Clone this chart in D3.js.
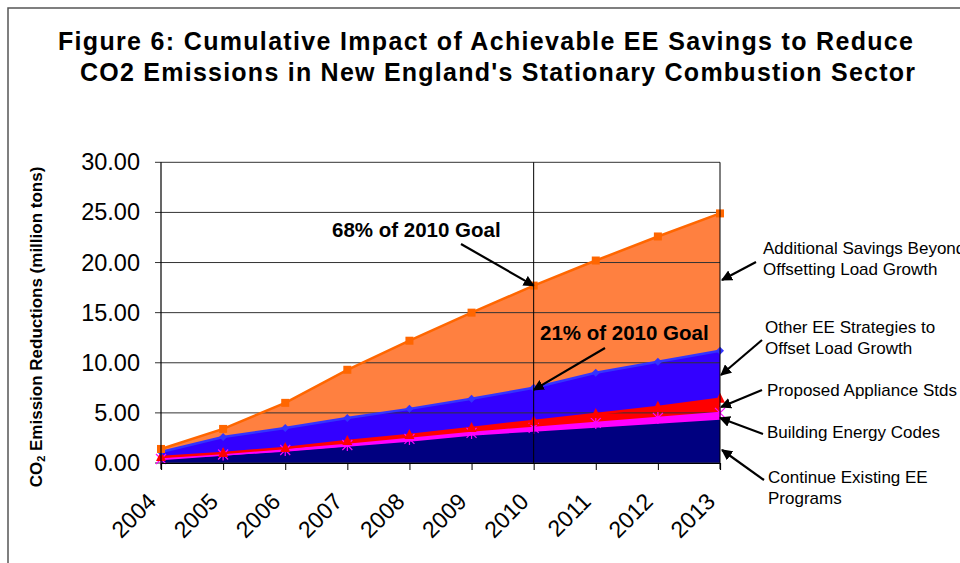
<!DOCTYPE html>
<html>
<head>
<meta charset="utf-8">
<script src="https://cdn.jsdelivr.net/npm/d3@7"></script>
<style>
  body { margin: 0; background: #fff; }
  text { font-family: Arial, "Liberation Sans", sans-serif; }
</style>
</head>
<body>
<script>
// years along the x axis
var years = [2004, 2005, 2006, 2007, 2008, 2009, 2010, 2011, 2012, 2013];

// savings per program (million tons), stacked bottom to top
var existingPrograms = [0.3, 0.6, 1.0, 1.5, 2.0, 2.6, 3.0, 3.4, 3.8, 4.2];
var buildingCodes    = [0.1, 0.25, 0.3, 0.3, 0.4, 0.4, 0.5, 0.6, 0.7, 0.8];
var applianceStds    = [0.2, 0.15, 0.2, 0.4, 0.4, 0.5, 0.7, 0.9, 1.1, 1.4];
var otherStrategies  = [0.5, 1.6, 2.0, 2.3, 2.6, 2.9, 3.3, 4.1, 4.5, 4.8];
var additionalSavings = [0.3, 0.8, 2.5, 4.8, 6.8, 8.6, 10.2, 11.2, 12.5, 13.7];

var yTicks = [0, 5, 10, 15, 20, 25, 30];

var titleLines = [
  "Figure 6: Cumulative Impact of Achievable EE Savings to Reduce",
  "CO2 Emissions in New England's Stationary Combustion Sector"
];

var w = 960, h = 563;

var svg = d3.select("body").append("svg")
  .attr("width", w)
  .attr("height", h);

// outer chart border (cropped on right and bottom)
svg.append("rect")
  .attr("x", 8).attr("y", 8)
  .attr("width", 1000).attr("height", 1000)
  .attr("fill", "none")
  .attr("stroke", "#555")
  .attr("stroke-width", 1.5);

// title (the original font runs wider, so stretch spacing to match)
svg.append("text")
  .attr("x", 58).attr("y", 50)
  .attr("font-size", 25).attr("font-weight", "bold")
  .attr("textLength", 855).attr("lengthAdjust", "spacing")
  .text(titleLines[0]);
svg.append("text")
  .attr("x", 80).attr("y", 81)
  .attr("font-size", 25).attr("font-weight", "bold")
  .attr("textLength", 835).attr("lengthAdjust", "spacing")
  .text(titleLines[1]);

// plot area
var x0 = 161, x1 = 720, yTop = 162.3, yBot = 463;

var xScale = d3.scaleLinear().domain([2004, 2013]).range([x0, x1]);
var yScale = d3.scaleLinear().domain([0, 30]).range([yBot, yTop]);

// build the table for the stack
var keys = ["existing", "codes", "appliance", "other", "additional"];
var table = years.map(function(y, i) {
  return {
    year: y,
    existing: existingPrograms[i],
    codes: buildingCodes[i],
    appliance: applianceStds[i],
    other: otherStrategies[i],
    additional: additionalSavings[i]
  };
});
var stacked = d3.stack().keys(keys)(table);

var fills = {
  existing: "#000080",
  codes: "#FF00FF",
  appliance: "#FF0000",
  other: "#3300FF",
  additional: "#FF8040"
};
var strokes = {
  existing: "#000080",
  codes: "#FF00FF",
  appliance: "#FF0000",
  other: "#3333FF",
  additional: "#FF6600"
};

var area = d3.area()
  .x(d => xScale(d.data.year))
  .y0(d => yScale(d[0]))
  .y1(d => yScale(d[1]));

var line = d3.line()
  .x(d => xScale(d.data.year))
  .y(d => yScale(d[1]));

svg.append("g").selectAll("path")
  .data(stacked)
  .enter().append("path")
  .attr("d", area)
  .attr("fill", d => fills[d.key]);

// horizontal gridlines on top of the areas
svg.append("g").selectAll("line")
  .data(yTicks)
  .enter().append("line")
  .attr("x1", x0 - 6).attr("x2", x1)
  .attr("y1", d => yScale(d)).attr("y2", d => yScale(d))
  .attr("stroke", "#333").attr("stroke-width", 1);

// top lines for each layer
svg.append("g").selectAll("path")
  .data(stacked)
  .enter().append("path")
  .attr("d", line)
  .attr("fill", "none")
  .attr("stroke", d => strokes[d.key])
  .attr("stroke-width", 2.5);

// markers
var markerLayer = svg.append("g");
stacked.forEach(function(layer) {
  var g = markerLayer.append("g");
  var pts = g.selectAll("g").data(layer).enter().append("g")
    .attr("transform", d => "translate(" + xScale(d.data.year) + "," + yScale(d[1]) + ")");
  if (layer.key == "additional") {
    pts.append("rect").attr("x", -4).attr("y", -4).attr("width", 8).attr("height", 8)
      .attr("fill", "#FF6600");
  } else if (layer.key == "other") {
    pts.append("path").attr("d", "M0,-4L4,0L0,4L-4,0Z").attr("fill", "#3333FF");
  } else if (layer.key == "appliance") {
    pts.append("path").attr("d", "M0,-6L5,4L-5,4Z").attr("fill", "#FF0000");
  } else if (layer.key == "codes") {
    pts.append("path")
      .attr("d", "M-5,-5L5,5M-5,5L5,-5M0,-6L0,6")
      .attr("stroke", "#FF00FF").attr("stroke-width", 1.2);
  }
});

// axes
svg.append("line")
  .attr("x1", x0).attr("x2", x0).attr("y1", yTop).attr("y2", yBot + 6)
  .attr("stroke", "#000").attr("stroke-width", 1.2);
svg.append("line")
  .attr("x1", x1).attr("x2", x1).attr("y1", yTop).attr("y2", yBot + 6)
  .attr("stroke", "#000").attr("stroke-width", 1);
svg.append("line")
  .attr("x1", xScale(2010)).attr("x2", xScale(2010)).attr("y1", yTop).attr("y2", yBot)
  .attr("stroke", "#000").attr("stroke-width", 1);

var xAxis = d3.axisBottom(xScale)
  .tickValues(years)
  .tickSize(7)
  .tickFormat(d3.format("d"));
var xg = svg.append("g")
  .attr("transform", "translate(0," + yBot + ")")
  .call(xAxis);
xg.select(".domain").attr("stroke", "#000").attr("stroke-width", 1.2);
xg.selectAll(".tick line").attr("stroke", "#000");
xg.selectAll(".tick text")
  .attr("font-size", 23)
  .attr("font-family", "Arial, 'Liberation Sans', sans-serif")
  .attr("fill", "#000")
  .attr("text-anchor", "end")
  .attr("x", 0).attr("y", 0).attr("dy", null)
  .attr("transform", "translate(-4,40) rotate(-45)");

var yAxis = d3.axisLeft(yScale)
  .tickValues(yTicks)
  .tickSize(0)
  .tickPadding(21)
  .tickFormat(d3.format(".2f"));
var yg = svg.append("g")
  .attr("transform", "translate(" + x0 + ",0)")
  .call(yAxis);
yg.select(".domain").remove();
yg.selectAll(".tick text")
  .attr("font-size", 23.5)
  .attr("font-family", "Arial, 'Liberation Sans', sans-serif")
  .attr("fill", "#000");

// y axis title
var yTitle = svg.append("text")
  .attr("transform", "translate(42,327) rotate(-90)")
  .attr("text-anchor", "middle")
  .attr("font-size", 17)
  .attr("font-weight", "bold");
yTitle.append("tspan").text("CO");
yTitle.append("tspan").attr("font-size", 11).attr("dy", 3).text("2");
yTitle.append("tspan").attr("dy", -3).text(" Emission Reductions (million tons)");

// arrowhead
svg.append("defs").append("marker")
  .attr("id", "head")
  .attr("viewBox", "0 0 10 10")
  .attr("refX", 9).attr("refY", 5)
  .attr("markerWidth", 5).attr("markerHeight", 5)
  .attr("markerUnits", "strokeWidth")
  .attr("orient", "auto")
  .append("path").attr("d", "M0,0L10,5L0,10Z").attr("fill", "#000");

function arrow(xa, ya, xb, yb) {
  svg.append("line")
    .attr("x1", xa).attr("y1", ya).attr("x2", xb).attr("y2", yb)
    .attr("stroke", "#000").attr("stroke-width", 2.2)
    .attr("marker-end", "url(#head)");
}

// goal annotations
var goalIdx = years.indexOf(2010);
svg.append("text").attr("x", 332).attr("y", 237)
  .attr("font-size", 20.5).attr("font-weight", "bold")
  .text("68% of 2010 Goal");
arrow(461, 244, xScale(2010), yScale(stacked[4][goalIdx][1]));
svg.append("text").attr("x", 540).attr("y", 340)
  .attr("font-size", 20.5).attr("font-weight", "bold")
  .text("21% of 2010 Goal");
arrow(605, 348, xScale(2010), yScale(stacked[3][goalIdx][1]) + 2);

// series labels on the right
var labelLines = [
  ["Additional Savings Beyond", "Offsetting Load Growth"],
  ["Other EE Strategies to", "Offset Load Growth"],
  ["Proposed Appliance Stds"],
  ["Building Energy Codes"],
  ["Continue Existing EE", "Programs"]
];
var labelPos = [[763, 254], [765, 333], [767, 396], [767, 438], [768, 483]];
var arrowPos = [
  [756, 262, 722, 280],
  [762, 340, 721, 375],
  [762, 390, 721, 407],
  [763, 434, 720, 418],
  [764, 480, 722, 450]
];
labelLines.forEach(function(lines, i) {
  var t = svg.append("text")
    .attr("x", labelPos[i][0]).attr("y", labelPos[i][1])
    .attr("font-size", 17);
  lines.forEach(function(s, j) {
    t.append("tspan").attr("x", labelPos[i][0]).attr("dy", j == 0 ? 0 : 21).text(s);
  });
  arrow(arrowPos[i][0], arrowPos[i][1], arrowPos[i][2], arrowPos[i][3]);
});
</script>
</body>
</html>
